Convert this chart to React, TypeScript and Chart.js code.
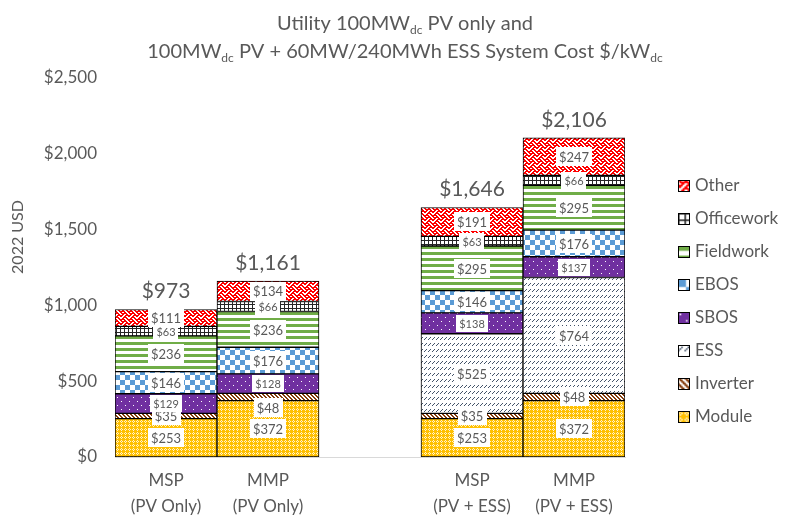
import { useEffect, useRef } from 'react';
import { Chart, registerables } from 'chart.js';

Chart.register(...registerables);

// ---------- data ----------
const categories: (string | string[])[] = [
  ['MSP', '(PV Only)'],
  ['MMP', '(PV Only)'],
  '',
  ['MSP', '(PV + ESS)'],
  ['MMP', '(PV + ESS)'],
];
const seriesNames = ['Module', 'Inverter', 'ESS', 'SBOS', 'EBOS', 'Fieldwork', 'Officework', 'Other'];
const moduleValues = [253, 372, null, 253, 372];
const inverterValues = [35, 48, null, 35, 48];
const essValues = [null, null, null, 525, 764];
const sbosValues = [129, 128, null, 138, 137];
const ebosValues = [146, 176, null, 146, 176];
const fieldworkValues = [236, 236, null, 295, 295];
const officeworkValues = [63, 66, null, 63, 66];
const otherValues = [111, 134, null, 191, 247];
const totalValues = [973, 1161, null, 1646, 2106];
const yTicks = [0, 500, 1000, 1500, 2000, 2500];

const seriesValues = [
  moduleValues,
  inverterValues,
  essValues,
  sbosValues,
  ebosValues,
  fieldworkValues,
  officeworkValues,
  otherValues,
];

// ---------- styles ----------
const FONT = 'Lato, "Noto Sans", sans-serif';
const GRAY = '#595959';
const labelSizes = [13, 13, 13, 11, 13, 13, 11, 13];

function tile(w: number, h: number, draw: (c: CanvasRenderingContext2D) => void): HTMLCanvasElement {
  const cv = document.createElement('canvas');
  cv.width = w;
  cv.height = h;
  const c = cv.getContext('2d')!;
  draw(c);
  return cv;
}

function px(c: CanvasRenderingContext2D, color: string, pts: number[][]) {
  c.fillStyle = color;
  pts.forEach(([x, y]) => c.fillRect(x, y, 1, 1));
}

function makeTiles(): HTMLCanvasElement[] {
  const module = tile(4, 4, (c) => {
    c.fillStyle = '#FFC000';
    c.fillRect(0, 0, 4, 4);
    px(c, '#FFF2CC', [[1, 0], [0, 1], [2, 1], [1, 2]]);
  });
  const inverter = tile(4, 4, (c) => {
    c.fillStyle = '#ffffff';
    c.fillRect(0, 0, 4, 4);
    for (let y = 0; y < 4; y++) for (let x = 0; x < 4; x++) {
      const d = (((x - y) % 4) + 4) % 4;
      if (d < 2) px(c, '#843C0C', [[x, y]]);
    }
  });
  const ess = tile(4, 6, (c) => {
    c.fillStyle = '#ffffff';
    c.fillRect(0, 0, 4, 6);
    px(c, '#44546A', [[0, 3], [1, 2], [2, 1]]);
  });
  const sbos = tile(8, 8, (c) => {
    c.fillStyle = '#7030A0';
    c.fillRect(0, 0, 8, 8);
    px(c, '#ffffff', [[1, 1], [5, 5]]);
  });
  const ebos = tile(10, 10, (c) => {
    c.fillStyle = '#ffffff';
    c.fillRect(0, 0, 10, 10);
    c.fillStyle = '#5B9BD5';
    c.fillRect(0, 0, 5, 5);
    c.fillRect(5, 5, 5, 5);
  });
  const field = tile(6, 6, (c) => {
    c.fillStyle = '#ffffff';
    c.fillRect(0, 0, 6, 6);
    c.fillStyle = '#70AD47';
    c.fillRect(0, 0, 6, 3);
  });
  const office = tile(4, 4, (c) => {
    c.fillStyle = '#ffffff';
    c.fillRect(0, 0, 4, 4);
    c.fillStyle = '#262626';
    c.fillRect(0, 0, 4, 1);
    c.fillRect(0, 0, 1, 4);
  });
  const weave = [0x88, 0x54, 0x22, 0x45, 0x88, 0x14, 0x22, 0x51];
  const other = tile(8, 8, (c) => {
    c.fillStyle = '#ffffff';
    c.fillRect(0, 0, 8, 8);
    c.fillStyle = '#FF0000';
    weave.forEach((row, y) => {
      const thick = row | ((row >> 1) | ((row & 1) << 7));
      for (let x = 0; x < 8; x++) if (thick & (0x80 >> x)) c.fillRect(x, y, 1, 1);
    });
  });
  return [module, inverter, ess, sbos, ebos, field, office, other];
}

function drawRich(
  ctx: CanvasRenderingContext2D,
  parts: { t: string; sub?: boolean }[],
  cx: number,
  baseline: number,
  size: number
) {
  const subSize = Math.round(size * 0.62);
  let total = 0;
  const widths = parts.map((p) => {
    ctx.font = `${p.sub ? subSize : size}px ${FONT}`;
    const w = ctx.measureText(p.t).width;
    total += w;
    return w;
  });
  let x = cx - total / 2;
  ctx.textAlign = 'left';
  ctx.textBaseline = 'alphabetic';
  parts.forEach((p, i) => {
    ctx.font = `${p.sub ? subSize : size}px ${FONT}`;
    ctx.fillText(p.t, x, baseline + (p.sub ? size * 0.2 : 0));
    x += widths[i];
  });
}

export default function App() {
  const ref = useRef<HTMLCanvasElement>(null);

  useEffect(() => {
    const canvas = ref.current!;
    const tiles = makeTiles();
    const ctx0 = canvas.getContext('2d')!;
    const patterns = tiles.map((t) => ctx0.createPattern(t, 'repeat')!);

    const labelsPlugin = {
      id: 'segLabels',
      afterDatasetsDraw(chart: any) {
        const ctx: CanvasRenderingContext2D = chart.ctx;
        ctx.save();
        chart.data.datasets.forEach((ds: any, di: number) => {
          const meta = chart.getDatasetMeta(di);
          meta.data.forEach((bar: any, i: number) => {
            const v = ds.data[i];
            if (v === null || v === undefined) return;
            const size = labelSizes[di];
            ctx.font = `${size}px ${FONT}`;
            const text = '$' + v.toLocaleString('en-US');
            const w = ctx.measureText(text).width;
            let cy = (bar.y + bar.base) / 2;
            if (di === 1 && i === 1) cy += 11;
            const bw = w + 6;
            const bh = size + 6;
            ctx.fillStyle = '#ffffff';
            ctx.fillRect(Math.round(bar.x - bw / 2), Math.round(cy - bh / 2), Math.round(bw), bh);
            ctx.fillStyle = GRAY;
            ctx.textAlign = 'center';
            ctx.textBaseline = 'middle';
            ctx.fillText(text, bar.x, cy + 1);
          });
        });
        // totals
        const yScale = chart.scales.y;
        const xScale = chart.scales.x;
        ctx.font = `21px ${FONT}`;
        ctx.fillStyle = GRAY;
        ctx.textAlign = 'center';
        ctx.textBaseline = 'middle';
        totalValues.forEach((t, i) => {
          if (t === null) return;
          let sum = 0;
          seriesValues.forEach((s) => (sum += (s[i] as number) || 0));
          const top = yScale.getPixelForValue(sum);
          ctx.fillText('$' + t.toLocaleString('en-US'), xScale.getPixelForValue(i), top - 18);
        });
        ctx.restore();
      },
    };

    const decoPlugin = {
      id: 'deco',
      afterDraw(chart: any) {
        const ctx: CanvasRenderingContext2D = chart.ctx;
        ctx.save();
        ctx.fillStyle = GRAY;
        // title
        drawRich(ctx, [{ t: 'Utility 100MW' }, { t: 'dc', sub: true }, { t: ' PV only and' }], 405, 30, 20);
        drawRich(
          ctx,
          [
            { t: '100MW' },
            { t: 'dc', sub: true },
            { t: ' PV + 60MW/240MWh ESS System Cost $/kW' },
            { t: 'dc', sub: true },
          ],
          405,
          58,
          20
        );
        // y title
        ctx.save();
        ctx.translate(18, 237);
        ctx.rotate(-Math.PI / 2);
        ctx.font = `16px ${FONT}`;
        ctx.textAlign = 'center';
        ctx.textBaseline = 'middle';
        ctx.fillText('2022 USD', 0, 0);
        ctx.restore();
        // legend
        const n = seriesNames.length;
        for (let k = 0; k < n; k++) {
          const di = n - 1 - k;
          const cy = 185 + k * 33;
          const bx = 678;
          const by = Math.round(cy - 5.5);
          ctx.save();
          ctx.translate(bx, by);
          ctx.scale(1.6, 1.6);
          ctx.fillStyle = patterns[di];
          ctx.fillRect(0, 0, 11 / 1.6, 11 / 1.6);
          ctx.restore();
          ctx.strokeStyle = '#000000';
          ctx.lineWidth = 1;
          ctx.strokeRect(bx + 0.5, by + 0.5, 11, 11);
          ctx.fillStyle = GRAY;
          ctx.font = `17px ${FONT}`;
          ctx.textAlign = 'left';
          ctx.textBaseline = 'middle';
          ctx.fillText(seriesNames[di], 695, cy + 1);
        }
        ctx.restore();
      },
    };

    const chart = new Chart(canvas, {
      type: 'bar',
      data: {
        labels: categories as any,
        datasets: seriesNames.map((name, i) => ({
          label: name,
          data: seriesValues[i] as any,
          backgroundColor: patterns[i],
          borderColor: '#000000',
          borderWidth: 1,
          borderSkipped: false,
          barPercentage: 1,
          categoryPercentage: 1,
        })),
      },
      options: {
        responsive: false,
        animation: false,
        devicePixelRatio: 1,
        layout: { padding: { top: 78, right: 160, left: 0, bottom: 0 } },
        plugins: {
          legend: { display: false },
          title: { display: false },
          tooltip: { enabled: false },
        },
        scales: {
          x: {
            stacked: true,
            grid: { display: false, drawTicks: false },
            border: { color: '#d9d9d9', width: 1 },
            ticks: {
              color: GRAY,
              font: { family: FONT, size: 17, lineHeight: 1.53 },
              padding: 11,
              maxRotation: 0,
              autoSkip: false,
            },
            afterFit: (s: any) => {
              s.height = 60;
            },
          },
          y: {
            stacked: true,
            min: yTicks[0],
            max: yTicks[yTicks.length - 1],
            grid: { display: false, drawTicks: false },
            border: { display: false },
            afterBuildTicks: (s: any) => {
              s.ticks = yTicks.map((v) => ({ value: v }));
            },
            ticks: {
              color: GRAY,
              font: { family: FONT, size: 17 },
              padding: 18,
              callback: (v: any) => '$' + Number(v).toLocaleString('en-US'),
            },
            afterFit: (s: any) => {
              s.width = 115;
            },
          },
        },
      },
      plugins: [labelsPlugin, decoPlugin],
    });
    return () => chart.destroy();
  }, []);

  return (
    <div style={{ position: 'absolute', left: 0, top: 0, width: 785, height: 517, background: '#fff' }}>
      <canvas ref={ref} width={785} height={517} style={{ display: 'block' }} />
    </div>
  );
}
